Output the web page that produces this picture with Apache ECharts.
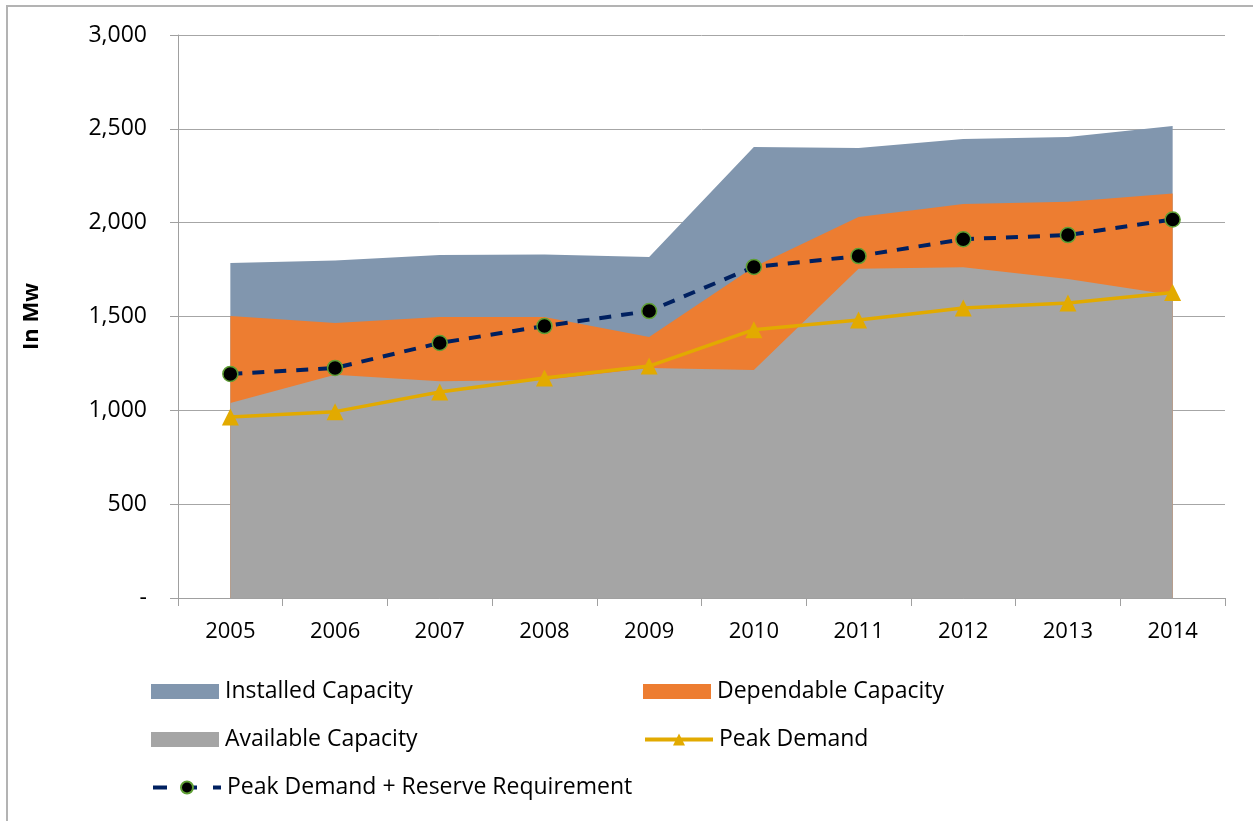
<!DOCTYPE html>
<html>
<head>
<meta charset="utf-8">
<script src="https://cdn.jsdelivr.net/npm/echarts@6/dist/echarts.min.js"></script>
<style>
  html, body { margin: 0; padding: 0; background: #fff; }
  #frame { position: absolute; left: 6px; top: 5px; width: 1260px; height: 830px;
           border-top: 2px solid #b3b3b3; border-left: 2px solid #b3b3b3; }
  #chart { position: absolute; left: 0; top: 0; width: 1253px; height: 821px; }
</style>
</head>
<body>
<div id="frame"></div>
<div id="chart"></div>
<script>
// years on the x axis
var years = ["2005", "2006", "2007", "2008", "2009", "2010", "2011", "2012", "2013", "2014"];
// values in Mw
var installed = [1785, 1798, 1828, 1830, 1817, 2403, 2398, 2446, 2456, 2515];
var dependable = [1503, 1465, 1497, 1497, 1391, 1764, 2030, 2100, 2112, 2155];
var available = [1039, 1190, 1155, 1162, 1226, 1215, 1755, 1762, 1700, 1615];
var peakDemand = [965, 993, 1098, 1172, 1236, 1430, 1481, 1545, 1572, 1628];
var peakReserve = [1194, 1226, 1359, 1449, 1529, 1764, 1822, 1912, 1934, 2017];

var font = "'Open Sans', sans-serif";
var chart = echarts.init(document.getElementById("chart"));

function legendRow(name, left, top, icon, lineStyle) {
  var item = icon ? { name: name, icon: icon } : { name: name };
  var lg = {
    data: [item],
    left: left,
    top: top,
    itemWidth: 68,
    itemHeight: 15,
    selectedMode: false,
    textStyle: { fontFamily: font, fontSize: 23, color: "#000", padding: [0, 0, 0, 1] }
  };
  if (lineStyle) lg.lineStyle = lineStyle;
  return lg;
}

var option = {
  animation: false,
  textStyle: { fontFamily: font },
  grid: { left: 178, right: 28, top: 35, bottom: 223 },
  legend: [
    legendRow("Installed Capacity", 146, 675, "rect"),
    legendRow("Dependable Capacity", 638, 675, "rect"),
    legendRow("Available Capacity", 146, 723, "rect"),
    legendRow("Peak Demand", 638, 723, null, { width: 4 }),
    legendRow("Peak Demand + Reserve Requirement", 146, 771, null, { width: 4, type: [14, 16] })
  ],
  xAxis: {
    type: "category",
    data: years,
    boundaryGap: true,
    axisLine: { lineStyle: { color: "#a0a0a0", width: 1 } },
    axisTick: { show: true, length: 8, interval: 0, lineStyle: { color: "#a0a0a0" } },
    axisLabel: { color: "#000", fontSize: 22, margin: 23, fontFamily: font }
  },
  yAxis: {
    type: "value",
    min: 0,
    max: 3000,
    interval: 500,
    name: "In Mw",
    nameLocation: "middle",
    nameGap: 135,
    nameTextStyle: { fontSize: 22, fontWeight: "bold", color: "#000", fontFamily: font },
    axisLine: { show: true, lineStyle: { color: "#a0a0a0", width: 1 } },
    axisTick: { show: true, length: 8, lineStyle: { color: "#a0a0a0" } },
    axisLabel: {
      color: "#000",
      fontSize: 23,
      margin: 31,
      fontFamily: font,
      formatter: function (v) { return v === 0 ? "-" : v.toLocaleString("en-US"); }
    },
    splitLine: { show: true, lineStyle: { color: "#a6a6a6", width: 1 } }
  },
  series: [
    {
      name: "Installed Capacity",
      type: "line",
      data: installed,
      showSymbol: false,
      symbol: "none",
      lineStyle: { width: 0 },
      itemStyle: { color: "#8196ae" },
      areaStyle: { color: "#8196ae", opacity: 1 }
    },
    {
      name: "Dependable Capacity",
      type: "line",
      data: dependable,
      showSymbol: false,
      symbol: "none",
      lineStyle: { width: 0 },
      itemStyle: { color: "#ed7d31" },
      areaStyle: { color: "#ed7d31", opacity: 1 }
    },
    {
      name: "Available Capacity",
      type: "line",
      data: available,
      showSymbol: false,
      symbol: "none",
      lineStyle: { width: 0 },
      itemStyle: { color: "#a5a5a5" },
      areaStyle: { color: "#a5a5a5", opacity: 1 }
    },
    {
      name: "Peak Demand",
      type: "line",
      data: peakDemand,
      symbol: "triangle",
      symbolSize: 17,
      lineStyle: { color: "#e2aa00", width: 3.5 },
      itemStyle: { color: "#e2aa00" }
    },
    {
      name: "Peak Demand + Reserve Requirement",
      type: "line",
      data: peakReserve,
      symbol: "circle",
      symbolSize: 15,
      lineStyle: { color: "#002060", width: 4, type: [12, 10] },
      itemStyle: { color: "#000", borderColor: "#5f9f35", borderWidth: 1.5 }
    }
  ]
};
chart.setOption(option);
</script>
</body>
</html>
